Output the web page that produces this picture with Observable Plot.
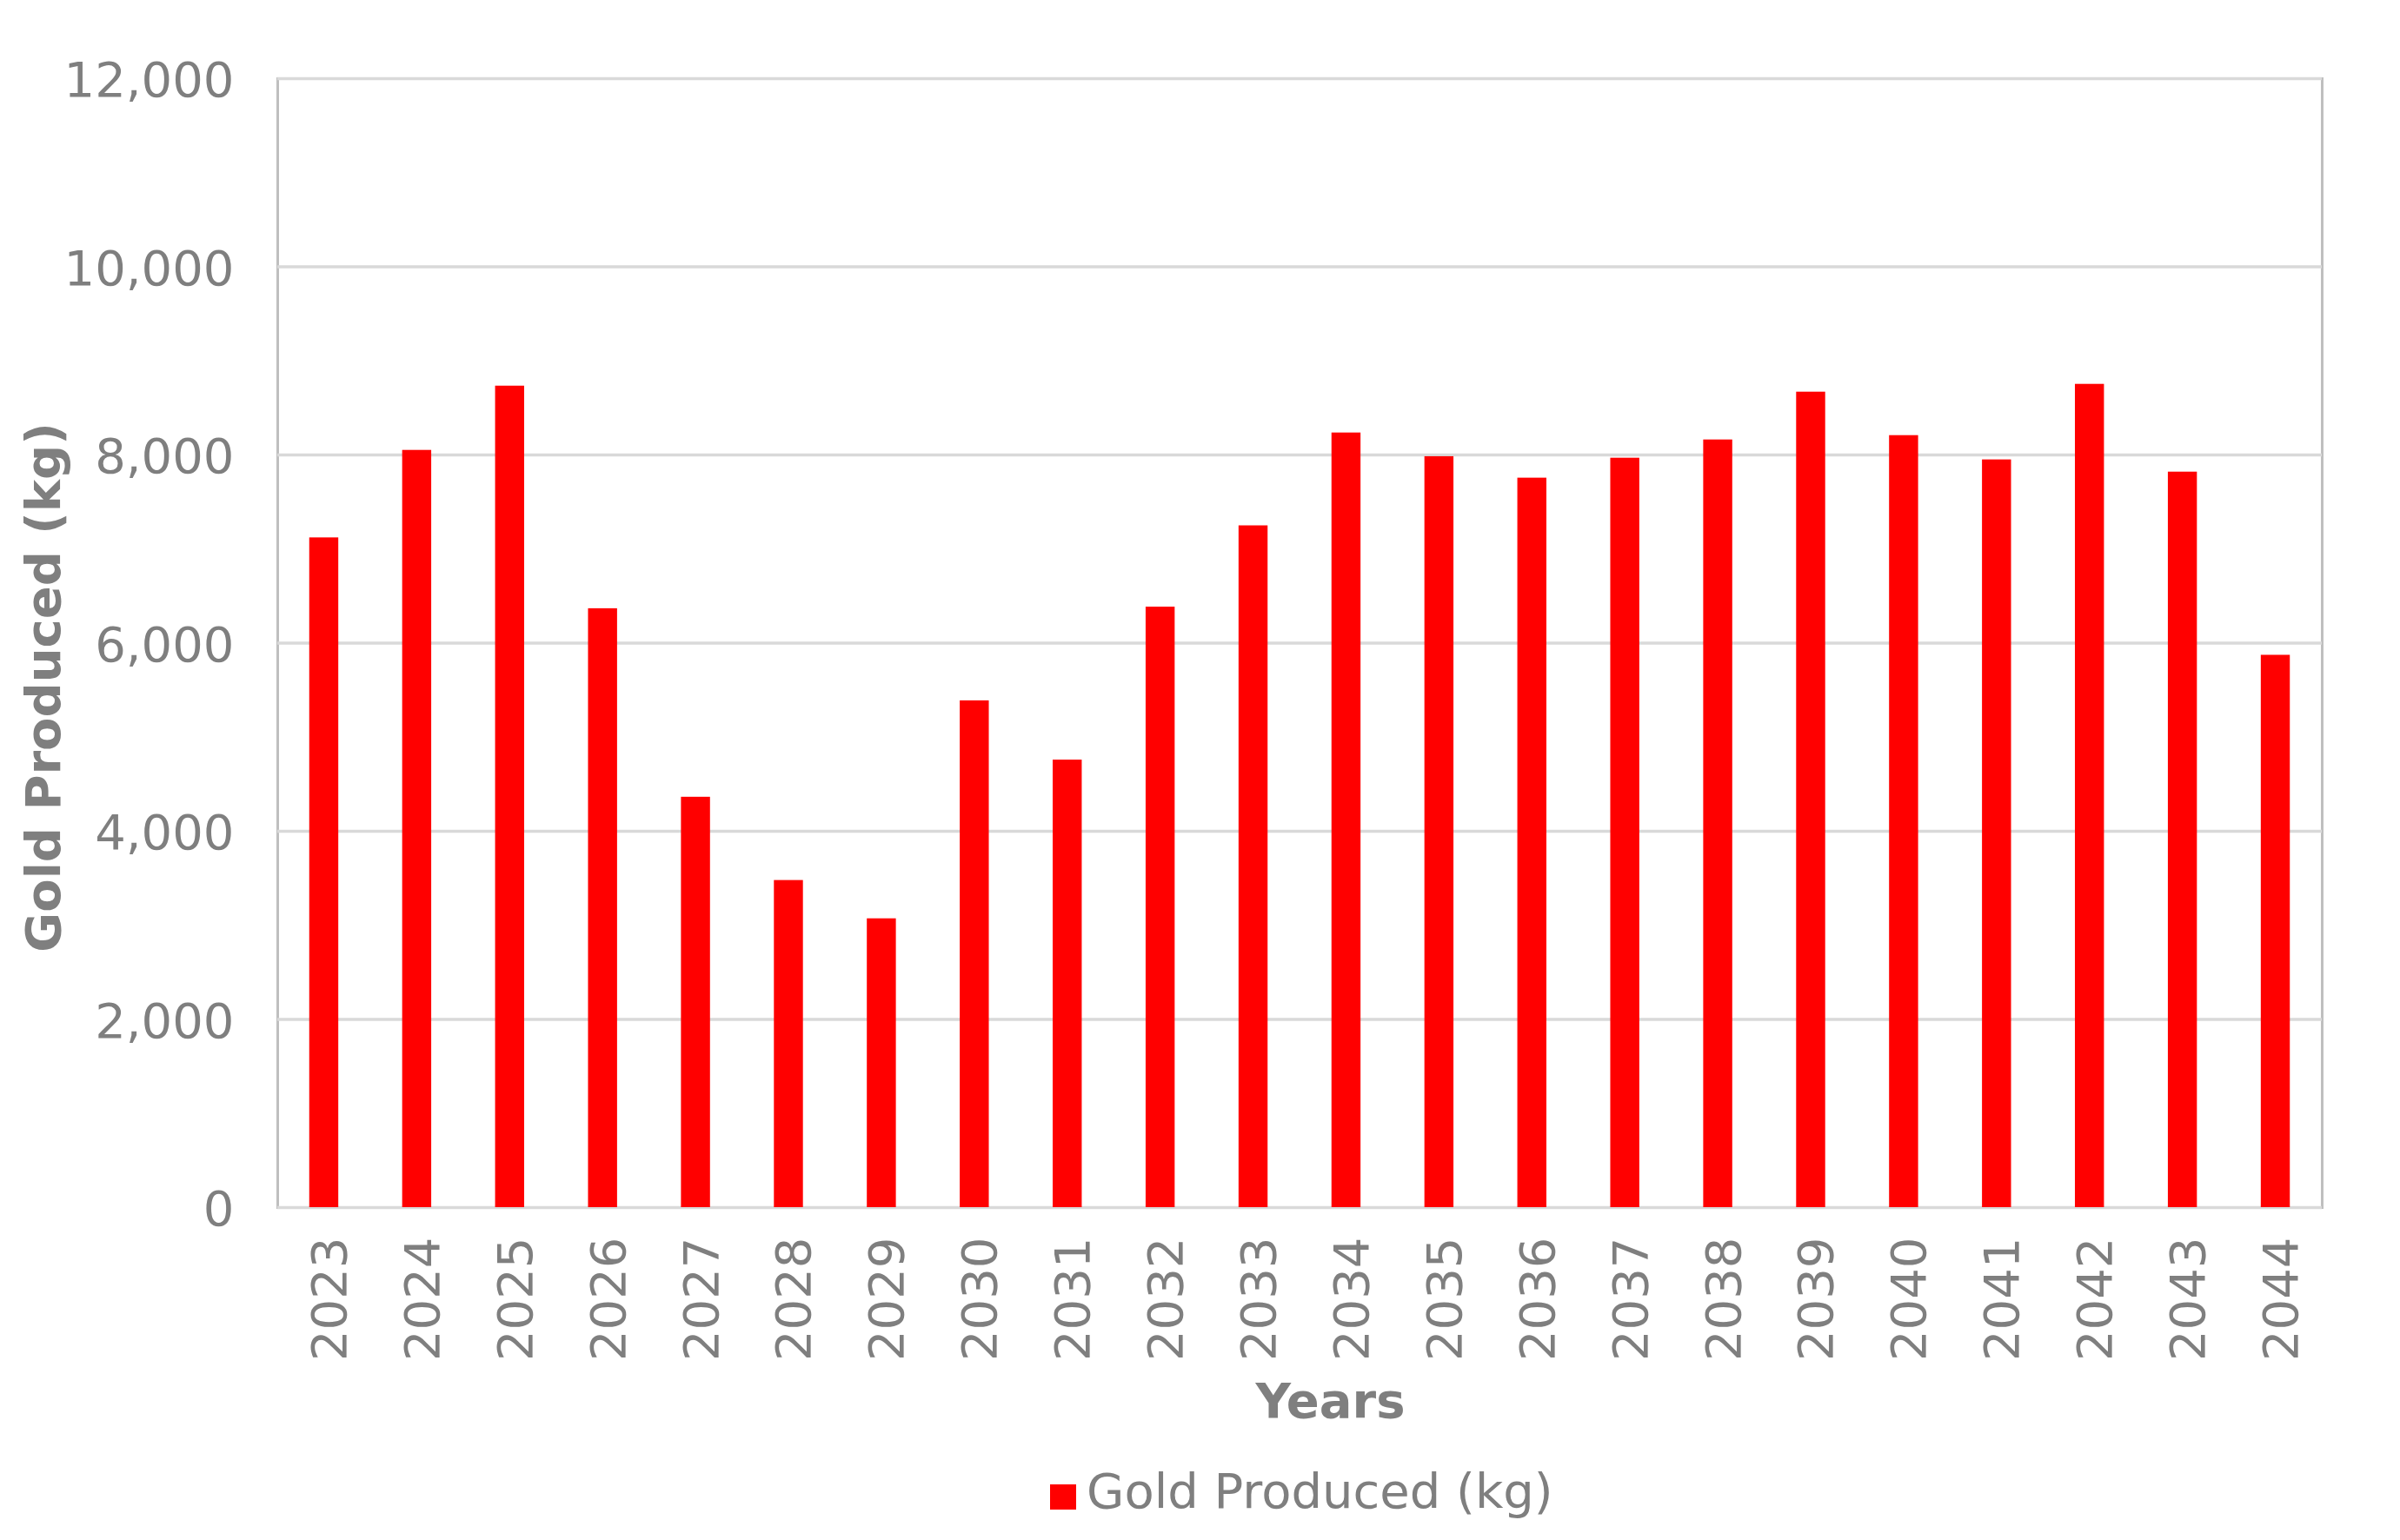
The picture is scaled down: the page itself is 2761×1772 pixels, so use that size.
<!DOCTYPE html>
<html>
<head>
<meta charset="utf-8">
<script src="https://cdn.jsdelivr.net/npm/d3@7"></script>
<script src="https://cdn.jsdelivr.net/npm/@observablehq/plot@0.6"></script>
<style>
html, body { margin: 0; padding: 0; background: #fff; }
#wrap { position: relative; width: 2761px; height: 1772px; font-family: "DejaVu Sans", sans-serif; color: #7f7f7f; overflow: hidden; }
#chart { position: absolute; left: 0; top: 0; }
#swatch { position: absolute; left: 1208px; top: 1708px; width: 30px; height: 29px; background: #ff0000; }
#legtext { position: absolute; left: 1250px; top: 1684px; font-size: 56px; line-height: 64px; white-space: nowrap; }
</style>
</head>
<body>
<div id="wrap">
  <div id="chart"></div>
  <div id="swatch"></div>
  <div id="legtext">Gold Produced (kg)</div>
</div>
<script>
const years = ["2023","2024","2025","2026","2027","2028","2029","2030","2031","2032","2033","2034","2035","2036","2037","2038","2039","2040","2041","2042","2043","2044"];
const goldKg = [7119, 8049, 8732, 6366, 4362, 3477, 3070, 5387, 4757, 6383, 7247, 8234, 7982, 7754, 7966, 8160, 8668, 8206, 7948, 8751, 7818, 5871];
const yTicks = [0, 2000, 4000, 6000, 8000, 10000, 12000];
const xTitle = "Years";
const yTitle = "Gold Produced (kg)";

const data = years.map((y, i) => ({year: y, value: goldKg[i]}));
const gray = "#7f7f7f";

const chart = Plot.plot({
  width: 2761,
  height: 1680,
  marginTop: 90,
  marginBottom: 291,
  marginLeft: 319,
  marginRight: 90,
  style: { fontFamily: "DejaVu Sans, sans-serif", fontSize: "56px", color: gray, background: "#fff" },
  x: { type: "band", domain: years, paddingInner: 0.6875, paddingOuter: 0.34375, align: 0.5, round: false },
  y: { domain: [0, 12000] },
  marks: [
    Plot.frame({ stroke: "#bfbfbf", strokeWidth: 3 }),
    Plot.gridY(yTicks, { stroke: "#d9d9d9", strokeWidth: 3.5, strokeOpacity: 1 }),
    Plot.barY(data, { x: "year", y: "value", fill: "#ff0000" }),
    Plot.axisY(yTicks, { tickSize: 0, tickPadding: 50, tickFormat: d3.format(","), fill: gray, dy: 3,
      label: yTitle, labelAnchor: "center", labelOffset: 290 }),
    Plot.axisX({ tickSize: 0, tickPadding: 34, tickRotate: -90, fill: gray, dx: 7,
      label: xTitle, labelAnchor: "center", labelOffset: 250 })
  ]
});
document.getElementById("chart").appendChild(chart);

// axis titles: bold, no arrow, placed as in the reference
const svg = d3.select(chart);
svg.selectAll('g[aria-label="y-axis label"] text')
  .text(yTitle).attr("font-weight", "bold").attr("fill", gray);
svg.selectAll('g[aria-label="x-axis label"] text')
  .text(xTitle).attr("font-weight", "bold").attr("fill", gray);
svg.selectAll('g[aria-label="y-axis label"]').each(function() {
  const t = this.getAttribute("transform") || "";
  this.setAttribute("transform", "translate(0,51) " + t);
});
svg.selectAll('g[aria-label="x-axis label"]').each(function() {
  const t = this.getAttribute("transform") || "";
  this.setAttribute("transform", "translate(35,-9) " + t);
});
</script>
</body>
</html>
